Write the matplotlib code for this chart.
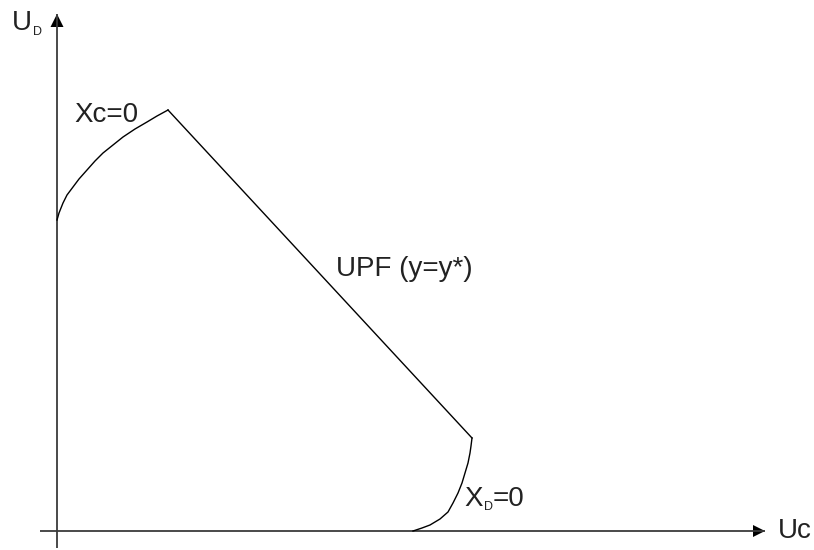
import matplotlib
matplotlib.use("Agg")
import matplotlib.pyplot as plt
from matplotlib.patches import Polygon

plt.rcParams["font.family"] = ["Liberation Sans", "DejaVu Sans"]

# Frontier pieces, in units measured from the origin (Uc right, UD up)
xc_curve_u = [0, 2, 6, 10, 16, 22, 30, 38, 46, 56, 66, 78, 90, 100, 111]
xc_curve_v = [311, 318, 328, 336, 344, 352, 361, 370, 378, 386, 394, 402, 409, 415, 421]
upf_u = [111, 415]
upf_v = [421, 93]
xd_curve_u = [415, 414, 413, 411, 408, 405, 401, 396, 391, 383, 373, 365, 356]
xd_curve_v = [93, 85, 78, 68, 58, 48, 38, 28, 19, 12, 6, 3, 0]

# axis extents
x_axis = (-17, 708)
y_axis = (-17, 517)

fig = plt.figure(figsize=(8.14, 5.5), dpi=100)
ax = fig.add_axes([0, 0, 1, 1])
ax.set_xlim(-57, 757)
ax.set_ylim(-19, 531)
ax.axis("off")

axis_col = "#3a3a3a"
ax.plot(x_axis, [0, 0], color=axis_col, lw=1.3, solid_capstyle="butt")
ax.plot([0, 0], y_axis, color=axis_col, lw=1.3, solid_capstyle="butt")

# arrow heads
ax.add_patch(Polygon([[x_axis[1] - 12, 6], [x_axis[1] - 12, -6], [x_axis[1], 0]],
                     closed=True, color="black", lw=0))
ax.add_patch(Polygon([[-6.5, y_axis[1] - 13], [6.5, y_axis[1] - 13], [0, y_axis[1]]],
                     closed=True, color="black", lw=0))

ax.plot(xc_curve_u, xc_curve_v, color="black", lw=1.0)
ax.plot(upf_u, upf_v, color="black", lw=1.0)
ax.plot(xd_curve_u, xd_curve_v, color="black", lw=1.0)

fs = 20
sub = 9
tc = "#222222"
ax.text(17, 409, "Xc=0", fontsize=fs, color=tc, ha="left", va="baseline")
ax.text(279, 255, "UPF (y=y*)", fontsize=fs, color=tc, ha="left", va="baseline")
ax.text(407, 25, "X", fontsize=fs, color=tc, ha="left", va="baseline")
ax.text(427, 21, "D", fontsize=sub, color=tc, ha="left", va="baseline")
ax.text(436, 25, "=0", fontsize=fs, color=tc, ha="left", va="baseline")
ax.text(721, -7, "Uc", fontsize=fs, color=tc, ha="left", va="baseline")
ax.text(-45, 501, "U", fontsize=fs, color=tc, ha="left", va="baseline")
ax.text(-24, 496, "D", fontsize=sub, color=tc, ha="left", va="baseline")

fig.savefig("out.png", dpi=100)
